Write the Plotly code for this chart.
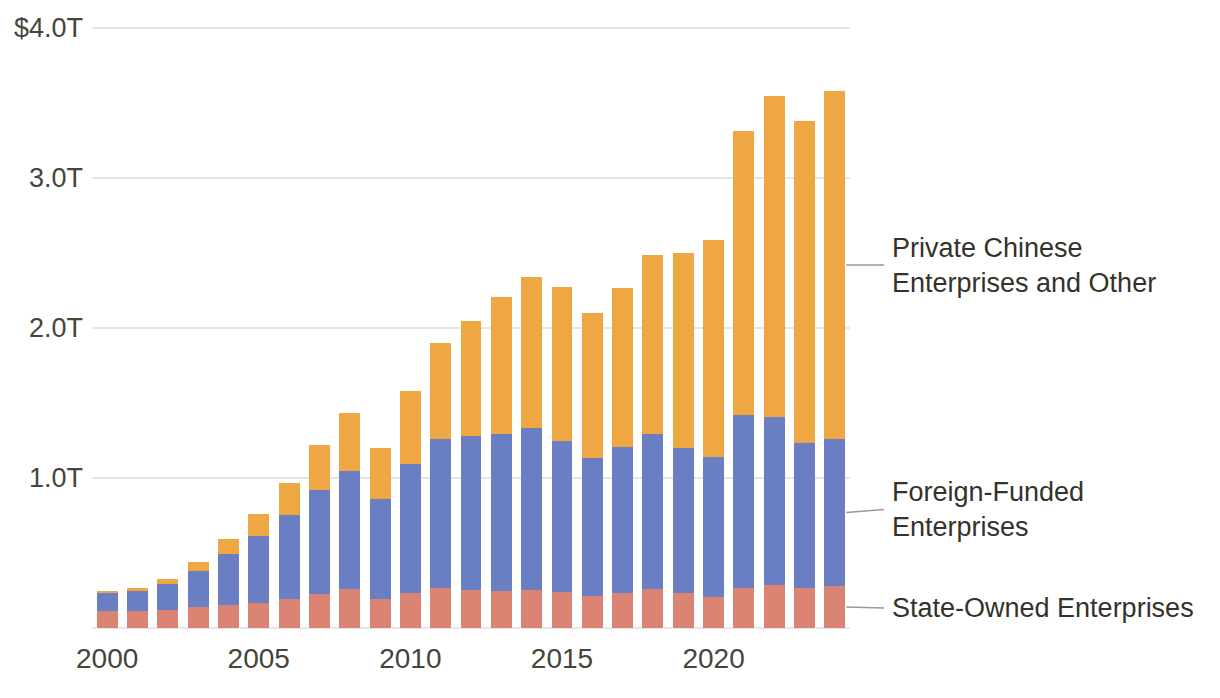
import plotly.graph_objects as go

# China exports by type of enterprise, trillions of US dollars
years = list(range(2000, 2025))

state_owned = [0.113, 0.113, 0.120, 0.140, 0.153, 0.167, 0.193, 0.227, 0.260, 0.193,
               0.233, 0.267, 0.253, 0.247, 0.253, 0.240, 0.213, 0.233, 0.260, 0.233,
               0.207, 0.267, 0.287, 0.267, 0.280]
foreign_funded = [0.120, 0.134, 0.173, 0.240, 0.340, 0.446, 0.560, 0.693, 0.787, 0.667,
                  0.860, 0.993, 1.027, 1.046, 1.080, 1.007, 0.920, 0.974, 1.033, 0.967,
                  0.933, 1.153, 1.120, 0.966, 0.980]
private_other = [0.014, 0.020, 0.034, 0.060, 0.100, 0.147, 0.214, 0.300, 0.386, 0.340,
                 0.487, 0.640, 0.767, 0.914, 1.007, 1.026, 0.967, 1.060, 1.194, 1.300,
                 1.447, 1.893, 2.140, 2.147, 2.320]

series_names = ["State-Owned Enterprises", "Foreign-Funded<br>Enterprises",
                "Private Chinese<br>Enterprises and Other"]
colors = ["#DB8474", "#6A7EC4", "#EFA744"]

x_tickvals = [2000, 2005, 2010, 2015, 2020]
x_ticktext = ["2000", "2005", "2010", "2015", "2020"]
y_tickvals = [0, 1, 2, 3, 4]
y_ticktext = ["", "1.0T", "2.0T", "3.0T", "$4.0T"]

FONT = "Liberation Sans, Arial, sans-serif"
TEXT = "#33332a"
TICK = "#45453a"

fig = go.Figure()
for vals, name, col in zip([state_owned, foreign_funded, private_other], series_names, colors):
    fig.add_trace(go.Bar(x=years, y=vals, name=name, marker=dict(color=col, line=dict(width=0)),
                         width=0.69))

# direct labels with leader lines, placed at the middle of each segment of the last bar
bottom = 0
label_shift = [-1, 3, 0]
for vals, name, shift in zip([state_owned, foreign_funded, private_other], series_names, label_shift):
    mid = bottom + vals[-1] / 2
    bottom += vals[-1]
    fig.add_shape(type="line", xref="paper", yref="y", x0=0.995, x1=1.045, y0=mid,
                  y1=mid + shift / 150, line=dict(color="#9a9a9a", width=1.5))
    fig.add_annotation(xref="paper", yref="y", x=1.053, y=mid, text=name, showarrow=False,
                       xanchor="left", yanchor="middle", align="left", yshift=shift,
                       font=dict(family=FONT, size=27, color=TEXT))

# page body has an 8px margin, so the figure is 8px smaller on each side it touches;
# y range padded a little so the 0 and 4T grid lines are not culled at the edges
fig.update_layout(
    barmode="stack",
    width=1212, height=690,
    margin=dict(l=84, r=370, t=17, b=67),
    plot_bgcolor="white", paper_bgcolor="white",
    showlegend=False,
    font=dict(family=FONT, size=27, color=TICK),
    xaxis=dict(range=[1999.5, 2024.5], tickvals=x_tickvals, ticktext=x_ticktext,
               showgrid=False, zeroline=False, ticks="", ticklabelstandoff=8,
               tickfont=dict(size=28), automargin=False),
    yaxis=dict(range=[-0.02, 4.02], tickvals=y_tickvals, ticktext=y_ticktext,
               showgrid=True, gridcolor="#e6e6e6", gridwidth=1.5,
               zeroline=True, zerolinecolor="#e6e6e6", zerolinewidth=1.5,
               ticks="", ticklabelstandoff=8, tickfont=dict(size=27), automargin=False),
)

fig.write_html("out.html")
